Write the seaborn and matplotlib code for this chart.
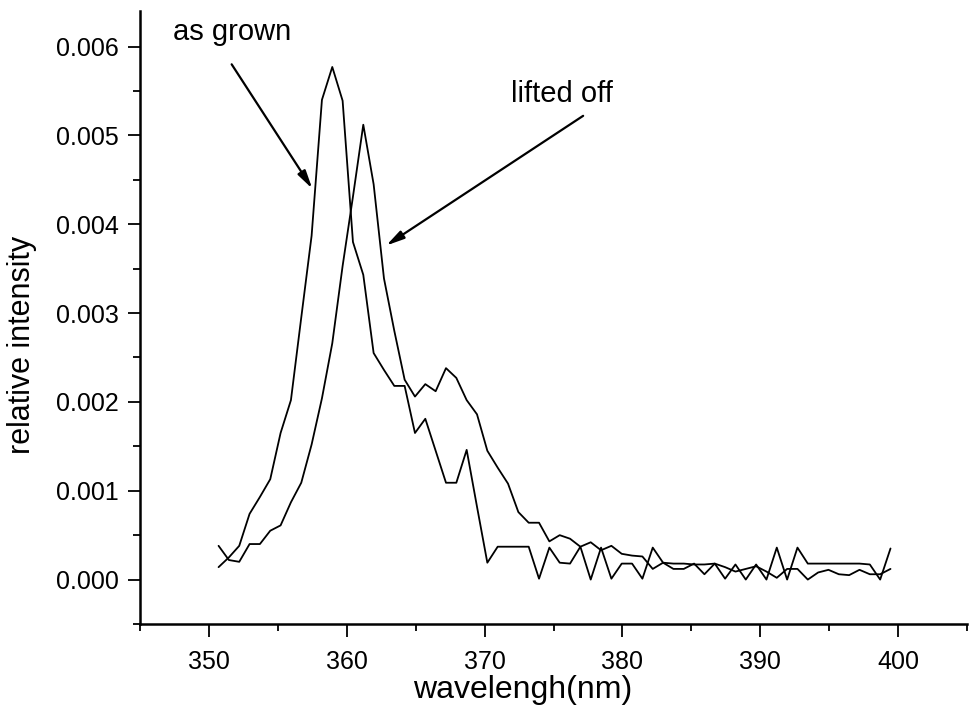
import numpy as np
import pandas as pd
import matplotlib
matplotlib.use("Agg")
import matplotlib.pyplot as plt
from matplotlib.ticker import MultipleLocator, FormatStrFormatter
import seaborn as sns

# Sampled wavelengths (nm), shared by both spectra
wavelength = [
    350.70, 351.45, 352.20, 352.95, 353.70, 354.45, 355.20, 355.95, 356.70, 357.45,
    358.20, 358.95, 359.70, 360.45, 361.20, 361.95, 362.70, 363.45, 364.20, 364.95,
    365.70, 366.45, 367.20, 367.95, 368.70, 369.45, 370.20, 370.95, 371.70, 372.45,
    373.20, 373.95, 374.70, 375.45, 376.20, 376.95, 377.70, 378.45, 379.20, 379.95,
    380.70, 381.45, 382.20, 382.95, 383.70, 384.45, 385.20, 385.95, 386.70, 387.45,
    388.20, 388.95, 389.70, 390.45, 391.20, 391.95, 392.70, 393.45, 394.20, 394.95,
    395.70, 396.45, 397.20, 397.95, 398.70, 399.45,
]

# Relative intensity, in units of 1e-3
as_grown_e3 = [
    0.14, 0.25, 0.38, 0.74, 0.93, 1.13, 1.65, 2.02, 2.95, 3.87,
    5.40, 5.77, 5.39, 3.80, 3.43, 2.55, 2.36, 2.18, 2.18, 1.65,
    1.81, 1.45, 1.09, 1.09, 1.46, 0.82, 0.19, 0.37, 0.37, 0.37,
    0.37, 0.01, 0.36, 0.19, 0.18, 0.37, 0.00, 0.36, 0.01, 0.18,
    0.18, 0.01, 0.36, 0.19, 0.12, 0.12, 0.18, 0.06, 0.18, 0.01,
    0.17, 0.00, 0.17, 0.00, 0.36, 0.00, 0.36, 0.18, 0.18, 0.18,
    0.18, 0.18, 0.18, 0.17, 0.00, 0.35,
]
lifted_off_e3 = [
    0.38, 0.22, 0.20, 0.40, 0.40, 0.55, 0.61, 0.87, 1.09, 1.52,
    2.04, 2.66, 3.53, 4.31, 5.12, 4.45, 3.39, 2.80, 2.25, 2.06,
    2.20, 2.12, 2.38, 2.27, 2.02, 1.86, 1.45, 1.26, 1.08, 0.76,
    0.64, 0.64, 0.43, 0.50, 0.46, 0.37, 0.42, 0.33, 0.38, 0.29,
    0.27, 0.26, 0.12, 0.19, 0.18, 0.18, 0.17, 0.17, 0.18, 0.14,
    0.09, 0.12, 0.15, 0.09, 0.02, 0.12, 0.12, 0.00, 0.08, 0.11,
    0.06, 0.05, 0.11, 0.06, 0.06, 0.12,
]

x_ticks = [350, 360, 370, 380, 390, 400]
y_ticks = [0.000, 0.001, 0.002, 0.003, 0.004, 0.005, 0.006]

df = pd.concat([
    pd.DataFrame({"wavelength": wavelength,
                  "intensity": np.array(as_grown_e3) * 1e-3,
                  "sample": "as grown"}),
    pd.DataFrame({"wavelength": wavelength,
                  "intensity": np.array(lifted_off_e3) * 1e-3,
                  "sample": "lifted off"}),
], ignore_index=True)

sns.set_theme(style="ticks")
plt.rcParams["font.family"] = ["Liberation Sans", "DejaVu Sans"]
plt.rcParams["text.color"] = "black"

fig = plt.figure(figsize=(9.72, 7.06), dpi=100)
ax = fig.add_axes([140 / 972, 82 / 706, 827 / 972, 613 / 706])

sns.lineplot(data=df, x="wavelength", y="intensity", hue="sample",
             palette=["black", "black"], estimator=None, legend=False,
             linewidth=1.3, ax=ax)

ax.set_xlim(345, 405)
ax.set_ylim(-0.0005, 0.0064)
ax.set_xticks(x_ticks)
ax.set_yticks(y_ticks)
ax.xaxis.set_minor_locator(MultipleLocator(5))
ax.yaxis.set_minor_locator(MultipleLocator(0.0005))
ax.yaxis.set_major_formatter(FormatStrFormatter("%.3f"))

for side in ("top", "right"):
    ax.spines[side].set_visible(False)
for side in ("left", "bottom"):
    ax.spines[side].set_linewidth(1.8)
    ax.spines[side].set_color("black")

ax.tick_params(which="major", direction="out", length=9, width=1.3,
               labelsize=18, colors="black")
ax.tick_params(axis="x", which="major", pad=10)
ax.tick_params(axis="y", which="major", pad=6)
ax.tick_params(which="minor", direction="out", length=5, width=1.3,
               colors="black")

ax.set_xlabel("wavelengh(nm)", fontsize=23, color="black")
ax.set_ylabel("relative intensity", fontsize=22, color="black")
ax.xaxis.set_label_coords(0.463, -0.083)
ax.yaxis.set_label_coords(-0.125, 0.455)

# Sample annotations with pointer arrows
arrow = dict(arrowstyle="-|>,head_length=0.9,head_width=0.22",
             color="black", lw=1.6, shrinkA=0, shrinkB=0)
ax.text(351.7, 0.00616, "as grown", fontsize=21, ha="center", va="center",
        color="black")
ax.annotate("", xy=(357.5, 0.0044), xytext=(351.65, 0.0058),
            arrowprops=arrow)
ax.text(375.6, 0.00547, "lifted off", fontsize=21, ha="center", va="center",
        color="black")
ax.annotate("", xy=(362.86, 0.00376), xytext=(377.15, 0.00522),
            arrowprops=arrow)

fig.savefig("out.png", dpi=100, facecolor="white")
